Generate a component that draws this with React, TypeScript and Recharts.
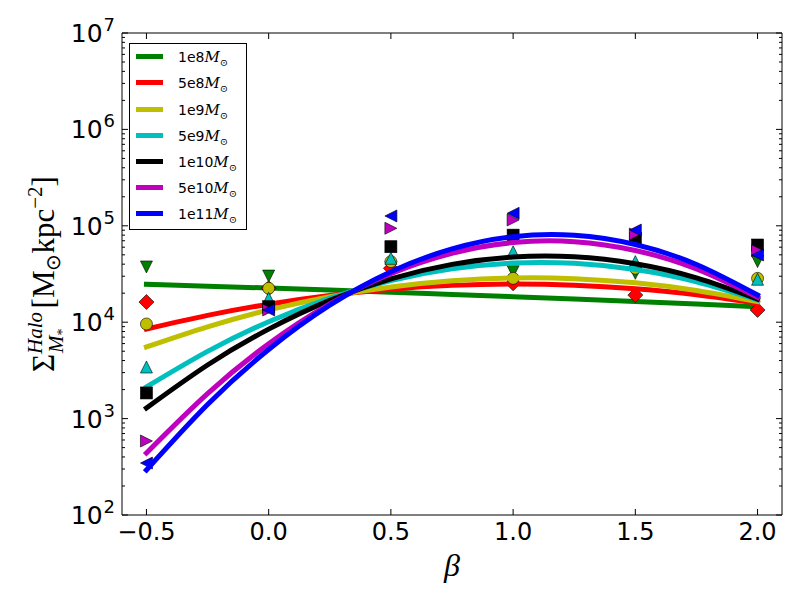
import React from 'react';
import { ComposedChart, Line, Scatter, XAxis, YAxis } from 'recharts';

// Measured beta positions of the markers
const BETA = [-0.5, 0.0, 0.5, 1.0, 1.5, 2.0];
// Beta positions at which the fitted curves were read
const FIT_BETA = [-0.5, -0.25, 0.0, 0.25, 0.5, 0.75, 1.0, 1.25, 1.5, 1.75, 2.0];

const NAMES = ['1e8', '5e8', '1e9', '5e9', '1e10', '5e10', '1e11'];
const COLORS = ['#008000', '#ff0000', '#bfbf00', '#00bfbf', '#000000', '#bf00bf', '#0000ff'];
const MARKERS = ['v', 'D', 'o', '^', 's', '>', '<'];

// marker values (M_sun kpc^-2)
const PTS_1E8 = [37400, 30100, 37000, 33400, 32100, 42500];
const PTS_5E8 = [16200, 22480, 36200, 25300, 19100, 13400];
const PTS_1E9 = [9580, 22480, 42500, 28500, 36300, 28500];
const PTS_5E9 = [3430, 17700, 46000, 53800, 42500, 27900];
const PTS_1E10 = [1845, 14480, 60700, 80000, 74200, 63200];
const PTS_5E10 = [586, 13390, 94200, 114900, 82200, 55200];
const PTS_1E11 = [346, 13390, 126500, 134900, 90400, 49800];

// fitted curve values read at FIT_BETA
const FIT_1E8 = [24720, 23660, 22590, 21530, 20510, 19410, 18410, 17420, 16410, 15420, 14490];
const FIT_5E8 = [8492, 11780, 15380, 18920, 21980, 24100, 24890, 24210, 22230, 19280, 15740];
const FIT_1E9 = [5534, 8954, 13400, 18370, 23170, 26850, 28770, 28310, 25590, 21280, 16330];
const FIT_5E9 = [2128, 4977, 10120, 17780, 27100, 35810, 41110, 40830, 35160, 26240, 17020];
const FIT_1E10 = [1288, 3597, 8472, 16830, 28180, 39810, 47430, 47640, 40360, 28840, 17380];
const FIT_5E10 = [440, 1820, 5970, 15450, 31840, 51880, 66990, 68390, 55460, 35650, 18110];
const FIT_1E11 = [293, 1403, 5212, 15000, 33420, 57540, 77090, 79800, 63970, 39720, 19140];

const X_TICKS = [-0.5, 0.0, 0.5, 1.0, 1.5, 2.0];
const X_TICK_LABELS = ['\u22120.5', '0.0', '0.5', '1.0', '1.5', '2.0'];
const Y_MAJOR = [1e2, 1e3, 1e4, 1e5, 1e6, 1e7];
const Y_EXP = ['2', '3', '4', '5', '6', '7'];
const Y_MINOR_MULT = [2, 3, 4, 5, 6, 7, 8, 9];

const PTS = [PTS_1E8, PTS_5E8, PTS_1E9, PTS_5E9, PTS_1E10, PTS_5E10, PTS_1E11];
const FITS = [FIT_1E8, FIT_5E8, FIT_1E9, FIT_5E9, FIT_1E10, FIT_5E10, FIT_1E11];

const Y_TICKS: number[] = [];
Y_MAJOR.forEach((m, i) => {
  Y_TICKS.push(m);
  if (i < Y_MAJOR.length - 1) Y_MINOR_MULT.forEach((k) => Y_TICKS.push(m * k));
});

const isMajor = (v: number) => Y_MAJOR.some((m) => Math.abs(m - v) < m * 1e-6);

const TICK_FONT = 'DejaVu Sans, sans-serif';
const MATH_FONT = 'DejaVu Serif, serif';

const BottomTick = (p: any) => {
  const { x, y, payload } = p;
  const i = X_TICKS.indexOf(payload.value);
  return (
    <g>
      <line x1={x} x2={x} y1={y} y2={y - 6} stroke="#000" strokeWidth={1} />
      <text x={x} y={y + 25} textAnchor="middle" fontFamily={TICK_FONT} fontSize={24} fill="#000">
        {X_TICK_LABELS[i]}
      </text>
    </g>
  );
};

const TopTick = (p: any) => {
  const { x, y } = p;
  return <line x1={x} x2={x} y1={y} y2={y + 6} stroke="#000" strokeWidth={1} />;
};

const LeftTick = (p: any) => {
  const { x, y, payload } = p;
  const v = payload.value;
  const major = isMajor(v);
  const idx = Y_MAJOR.findIndex((m) => Math.abs(m - v) < m * 1e-6);
  return (
    <g>
      <line x1={x} x2={x + (major ? 6 : 3)} y1={y} y2={y} stroke="#000" strokeWidth={1} />
      {major && (
        <text x={x - 7} y={y + 9} textAnchor="end" fontFamily={TICK_FONT} fontSize={25} fill="#000">
          10
          <tspan fontSize={18} dx={1} dy={-11}>{Y_EXP[idx]}</tspan>
        </text>
      )}
    </g>
  );
};

const RightTick = (p: any) => {
  const { x, y, payload } = p;
  const major = isMajor(payload.value);
  return <line x1={x} x2={x - (major ? 6 : 3)} y1={y} y2={y} stroke="#000" strokeWidth={1} />;
};

const Marker = ({ kind, color, cx, cy }: any) => {
  if (cx == null || cy == null) return null;
  const r = 6;
  const common = { fill: color, stroke: '#000', strokeWidth: 0.6 };
  switch (kind) {
    case 'o':
      return <circle cx={cx} cy={cy} r={r} {...common} />;
    case 's':
      return <rect x={cx - r} y={cy - r} width={2 * r} height={2 * r} {...common} />;
    case 'D':
      return (
        <polygon
          points={`${cx},${cy - 7.5} ${cx + 7.5},${cy} ${cx},${cy + 7.5} ${cx - 7.5},${cy}`}
          {...common}
        />
      );
    case 'v':
      return <polygon points={`${cx - r},${cy - r} ${cx + r},${cy - r} ${cx},${cy + r}`} {...common} />;
    case '^':
      return <polygon points={`${cx - r},${cy + r} ${cx + r},${cy + r} ${cx},${cy - r}`} {...common} />;
    case '>':
      return <polygon points={`${cx - r},${cy - r} ${cx - r},${cy + r} ${cx + r},${cy}`} {...common} />;
    case '<':
      return <polygon points={`${cx + r},${cy - r} ${cx + r},${cy + r} ${cx - r},${cy}`} {...common} />;
    default:
      return null;
  }
};

const YLabel = (props: any) => {
  const vb = props.viewBox || { x: 121, y: 33, width: 1, height: 482 };
  const cx = vb.x - 67;
  const cy = vb.y + vb.height / 2;
  return (
    <text
      x={cx}
      y={cy}
      transform={`rotate(-90, ${cx}, ${cy})`}
      textAnchor="middle"
      fontFamily="Liberation Serif, serif"
      fontSize={31}
      fill="#000"
    >
      Σ
      <tspan fontSize={21} fontStyle="italic" dy={-12}>Halo</tspan>
      <tspan fontSize={21} fontStyle="italic" dx={-41} dy={21}>M</tspan>
      <tspan fontSize={14} dy={4}>*</tspan>
      <tspan dx={20} dy={-13}>[M</tspan>
      <tspan fontSize={20} dy={6}>⊙</tspan>
      <tspan dy={-6}>kpc</tspan>
      <tspan fontSize={21} dy={-12}>−2</tspan>
      <tspan dy={12}>]</tspan>
    </text>
  );
};

const XLabel = (props: any) => {
  const vb = props.viewBox || { x: 122, y: 515, width: 660, height: 1 };
  return (
    <text
      x={vb.x + vb.width / 2}
      y={vb.y + 61}
      textAnchor="middle"
      fontFamily="Liberation Serif, serif"
      fontStyle="italic"
      fontSize={32}
      fill="#000"
    >
      β
    </text>
  );
};

const ROW_CENTERS = [13, 39, 66, 92, 118, 144, 170];

const LegendBox = () => (
  <div
    style={{
      position: 'absolute',
      left: 129,
      top: 43,
      width: 118,
      height: 187,
      boxSizing: 'border-box',
      border: '1px solid #000',
      background: '#fff',
    }}
  >
    {NAMES.map((n, i) => (
      <React.Fragment key={n}>
        <div
          style={{
            position: 'absolute',
            left: 6,
            top: ROW_CENTERS[i] - 3.5,
            width: 27,
            height: 5,
            background: COLORS[i],
          }}
        />
        <div
          style={{
            position: 'absolute',
            left: 48,
            top: ROW_CENTERS[i] - 11,
            height: 22,
            lineHeight: '22px',
            whiteSpace: 'nowrap',
            color: '#000',
          }}
        >
          <span style={{ fontFamily: TICK_FONT, fontSize: 14 }}>{n}</span>
          <span style={{ fontFamily: MATH_FONT, fontStyle: 'italic', fontSize: 15 }}>M</span>
          <span style={{ fontFamily: MATH_FONT, fontSize: 10, position: 'relative', top: 4 }}>⊙</span>
        </div>
      </React.Fragment>
    ))}
  </div>
);

export default function App() {
  const lineData = FITS.map((f) => FIT_BETA.map((b, i) => ({ x: b, y: f[i] })));
  const ptData = PTS.map((p) => BETA.map((b, i) => ({ x: b, y: p[i] })));
  return (
    <div style={{ position: 'absolute', left: 0, top: 0, width: 800, height: 600, background: '#fff' }}>
      <ComposedChart width={800} height={600} margin={{ top: 32, right: 17, bottom: 84, left: 121 }}>
        <XAxis
          xAxisId="b"
          type="number"
          dataKey="x"
          domain={[-0.6, 2.1]}
          ticks={X_TICKS}
          interval={0}
          allowDataOverflow
          height={1}
          tickSize={0}
          tickMargin={0}
          tickLine={false}
          axisLine={{ stroke: '#000', strokeWidth: 1 }}
          tick={BottomTick}
          label={XLabel}
        />
        <XAxis
          xAxisId="t"
          orientation="top"
          type="number"
          dataKey="x"
          domain={[-0.6, 2.1]}
          ticks={X_TICKS}
          interval={0}
          allowDataOverflow
          height={1}
          tickSize={0}
          tickMargin={0}
          tickLine={false}
          axisLine={{ stroke: '#000', strokeWidth: 1 }}
          tick={TopTick}
        />
        <YAxis
          yAxisId="l"
          type="number"
          dataKey="y"
          scale="log"
          domain={[100, 1e7]}
          ticks={Y_TICKS}
          interval={0}
          allowDataOverflow
          width={1}
          tickSize={0}
          tickMargin={0}
          tickLine={false}
          axisLine={{ stroke: '#000', strokeWidth: 1 }}
          tick={LeftTick}
          label={YLabel}
        />
        <YAxis
          yAxisId="r"
          orientation="right"
          type="number"
          dataKey="y"
          scale="log"
          domain={[100, 1e7]}
          ticks={Y_TICKS}
          interval={0}
          allowDataOverflow
          width={1}
          tickSize={0}
          tickMargin={0}
          tickLine={false}
          axisLine={{ stroke: '#000', strokeWidth: 1 }}
          tick={RightTick}
        />
        {NAMES.flatMap((n, i) => [
          <Scatter
            key={`s-${n}`}
            name={`${n} pts`}
            data={ptData[i]}
            dataKey="y"
            xAxisId="b"
            yAxisId="l"
            zIndex={410 + 2 * i}
            isAnimationActive={false}
            shape={(p: any) => <Marker kind={MARKERS[i]} color={COLORS[i]} cx={p.cx} cy={p.cy} />}
          />,
          <Line
            key={`l-${n}`}
            name={n}
            data={lineData[i]}
            dataKey="y"
            xAxisId="b"
            yAxisId="l"
            zIndex={411 + 2 * i}
            type="natural"
            stroke={COLORS[i]}
            strokeWidth={5}
            strokeLinecap="square"
            dot={false}
            activeDot={false}
            isAnimationActive={false}
          />,
        ])}
      </ComposedChart>
      <LegendBox />
    </div>
  );
}
